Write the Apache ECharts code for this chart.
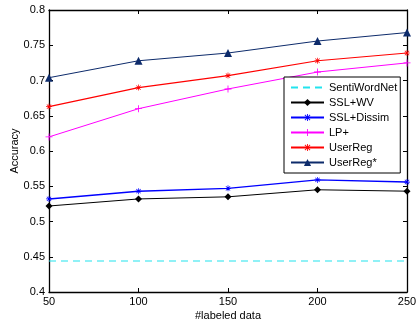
<!DOCTYPE html>
<html>
<head>
<meta charset="utf-8">
<script src="https://cdn.jsdelivr.net/npm/echarts@6/dist/echarts.min.js"></script>
<style>
  html, body { margin: 0; padding: 0; background: #fff; }
  #chart { width: 417px; height: 324px; }
</style>
</head>
<body>
<div id="chart"></div>
<script>
// x positions (#labeled data)
var labeled = [50, 100, 150, 200, 250]

var sentiWordNet = [0.444, 0.444, 0.444, 0.444, 0.444]
var sslWv = [0.522, 0.532, 0.535, 0.545, 0.543]
var sslDissim = [0.532, 0.543, 0.547, 0.559, 0.556]
var lpPlus = [0.620, 0.660, 0.688, 0.712, 0.725]
var userReg = [0.663, 0.690, 0.707, 0.728, 0.739]
var userRegStar = [0.704, 0.728, 0.739, 0.756, 0.768]

var seriesNames = ['SentiWordNet', 'SSL+WV', 'SSL+Dissim', 'LP+', 'UserReg', 'UserReg*']

// marker shapes (matlab style)
var plusPath = 'path://M4.4,0h1.2v10h-1.2zM0,4.4h10v1.2h-10z'
var starPath = 'path://M4.4,0h1.2v10h-1.2zM0,4.4h10v1.2h-10zM1,1.8L1.8,1L9,8.2L8.2,9zM8.2,1L9,1.8L1.8,9L1,8.2z'

function pairs(ys) {
  return labeled.map(function (x, i) { return [x, ys[i]] })
}

function lineSeries(name, ys, color, symbol, size, width, dashed) {
  return {
    name: name,
    type: 'line',
    data: pairs(ys),
    symbol: symbol,
    symbolSize: size,
    showSymbol: symbol !== 'none',
    lineStyle: { color: color, width: width, type: dashed ? [7, 5] : 'solid' },
    itemStyle: { color: color },
    emphasis: { disabled: true },
    animation: false
  }
}

var font = 'Liberation Sans, Arial, Helvetica, sans-serif'

var legendData = seriesNames.map(function (n) {
  // dashed baseline has no marker in the legend
  return n === 'SentiWordNet' ? { name: n, itemStyle: { opacity: 0 } } : { name: n }
})

var chart = echarts.init(document.getElementById('chart'))
chart.setOption({
  backgroundColor: '#fff',
  grid: { left: 49, right: 10, top: 10, bottom: 32, outerBoundsMode: 'none', containLabel: false },
  legend: {
    data: legendData,
    orient: 'vertical',
    left: 284,
    top: 77,
    itemWidth: 33,
    itemHeight: 9,
    itemGap: 4,
    padding: [5, 3, 5, 6],
    backgroundColor: '#fff',
    borderColor: '#000',
    borderWidth: 1,
    borderRadius: 0,
    textStyle: { fontFamily: font, fontSize: 11, color: '#000' }
  },
  xAxis: [{
    type: 'value',
    min: 50,
    max: 250,
    interval: 50,
    name: '#labeled data',
    nameLocation: 'middle',
    nameGap: 18,
    nameMoveOverlap: false,
    nameTextStyle: { fontFamily: font, fontSize: 11, color: '#000' },
    axisLine: { lineStyle: { color: '#000', width: 1.3 } },
    axisTick: { inside: true, length: 4, lineStyle: { color: '#000' } },
    axisLabel: { fontFamily: font, fontSize: 11, color: '#000', margin: 4 },
    splitLine: { show: false }
  }, {
    type: 'value',
    position: 'top',
    min: 50,
    max: 250,
    interval: 50,
    axisLine: { lineStyle: { color: '#000', width: 1.3 } },
    axisTick: { inside: true, length: 4, lineStyle: { color: '#000' } },
    axisLabel: { show: false },
    splitLine: { show: false }
  }],
  yAxis: [{
    type: 'value',
    min: 0.4,
    max: 0.8,
    interval: 0.05,
    name: 'Accuracy',
    nameLocation: 'middle',
    nameGap: 29,
    nameMoveOverlap: false,
    nameTextStyle: { fontFamily: font, fontSize: 11, color: '#000' },
    axisLine: { show: true, lineStyle: { color: '#000', width: 1.3 } },
    axisTick: { show: true, inside: true, length: 4, lineStyle: { color: '#000' } },
    axisLabel: { fontFamily: font, fontSize: 11, color: '#000', margin: 4 },
    splitLine: { show: false }
  }, {
    type: 'value',
    position: 'right',
    min: 0.4,
    max: 0.8,
    interval: 0.05,
    axisLine: { show: true, lineStyle: { color: '#000', width: 1.3 } },
    axisTick: { show: true, inside: true, length: 4, lineStyle: { color: '#000' } },
    axisLabel: { show: false },
    splitLine: { show: false }
  }],
  series: [
    lineSeries('SentiWordNet', sentiWordNet, '#22e4ee', 'none', 0, 1.2, true),
    lineSeries('SSL+WV', sslWv, '#000000', 'diamond', 7, 1, false),
    lineSeries('SSL+Dissim', sslDissim, '#0000ff', starPath, 6, 1.4, false),
    lineSeries('LP+', lpPlus, '#ff00ff', plusPath, 7, 1, false),
    lineSeries('UserReg', userReg, '#ff0000', starPath, 6, 1.2, false),
    lineSeries('UserReg*', userRegStar, '#0d2b6b', 'triangle', 8, 1, false)
  ]
})
</script>
</body>
</html>
